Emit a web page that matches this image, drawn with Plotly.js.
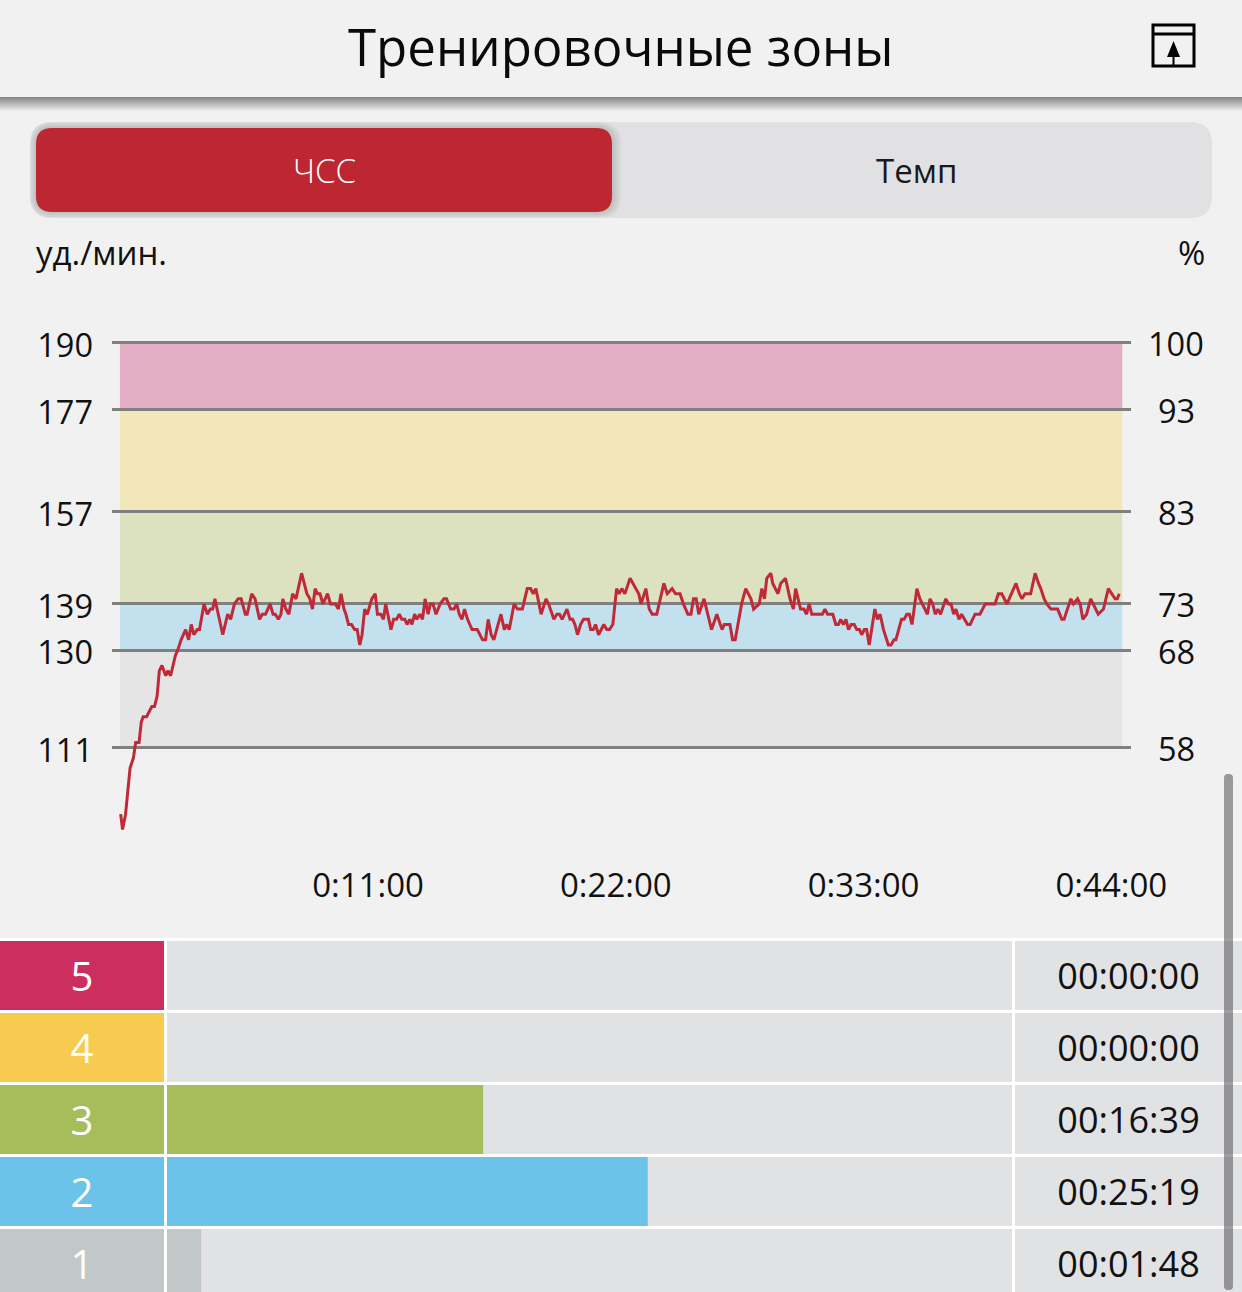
<!DOCTYPE html>
<html>
<head>
<meta charset="utf-8">
<script src="https://cdn.plot.ly/plotly-3.0.1.min.js"></script>
<style>html,body{margin:0;padding:0;background:#f1f1f1;overflow:hidden}</style>
</head>
<body>
<div id="chart" style="width:1242px;height:1292px"></div>
<script>
// ---------- data ----------
const elapsedSeconds = [1,6,14,26,35,41,50,56,61,70,84,91,98,104,111,121,127,134,147,153,162,174,182,189,196,205,211,223,232,240,246,252,261,273,286,294,304,314,322,333,338,350,359,371,378,387,399,407,413,421,428,433,441,449,459,468,483,497,505,512,519,525,532,540,552,560,573,581,588,596,601,608,616,624,631,638,644,651,658,670,679,685,694,701,707,715,721,728,736,743,750,758,764,771,777,784,790,798,805,812,820,826,833,841,852,862,869,880,889,896,903,910,917,925,937,951,965,973,980,988,995,1014,1023,1029,1036,1049,1058,1071,1084,1093,1100,1107,1121,1134,1141,1155,1163,1170,1177,1190,1198,1205,1211,1218,1226,1234,1247,1253,1260,1266,1274,1288,1296,1303,1312,1322,1329,1336,1344,1358,1381,1387,1400,1409,1417,1429,1448,1457,1470,1479,1491,1500,1512,1520,1527,1534,1541,1555,1567,1575,1589,1603,1609,1624,1631,1638,1655,1666,1680,1687,1702,1709,1716,1722,1733,1738,1752,1759,1772,1784,1793,1799,1812,1821,1828,1835,1842,1870,1877,1884,1898,1906,1913,1919,1926,1933,1940,1947,1955,1962,1969,1975,1982,1988,1995,2010,2017,2024,2033,2046,2053,2061,2066,2081,2088,2095,2102,2109,2122,2130,2150,2157,2164,2171,2178,2185,2199,2206,2213,2220,2226,2234,2241,2257,2264,2277,2290,2304,2330,2339,2348,2362,2386,2395,2402,2410,2425,2437,2446,2452,2461,2468,2479,2497,2508,2514,2532,2539,2550,2557,2564,2574,2585,2605,2619,2632,2650,2656,2661];
const heartRate = [98,95,98,107,109,112,112,116,117,117,119,119,121,126,127,125,126,125,129,130,132,134,132,135,133,134,134,139,137,138,138,140,137,133,137,136,139,140,140,137,137,141,140,136,137,137,139,137,137,136,137,140,138,137,141,140,145,141,140,138,142,141,141,139,141,139,139,138,141,138,137,135,135,134,134,131,133,138,137,140,141,137,137,136,139,136,134,136,136,137,136,136,135,136,135,137,136,137,136,140,137,139,139,137,139,140,140,138,138,139,137,136,138,136,134,134,132,132,136,133,132,137,134,135,134,139,138,138,142,142,141,142,137,140,139,136,137,137,136,138,136,136,135,133,135,136,136,134,134,135,133,135,134,134,135,142,141,142,141,144,141,139,142,138,137,137,143,141,142,141,141,139,137,137,140,140,137,140,136,134,137,134,135,135,132,132,139,142,140,138,139,142,140,144,145,143,141,143,144,140,138,142,138,138,137,139,137,137,138,137,137,135,135,136,135,136,134,135,135,134,134,133,134,134,131,138,136,137,134,131,131,132,132,136,136,137,137,135,142,140,137,140,139,137,138,137,140,139,139,137,138,136,137,135,135,137,137,139,139,141,141,139,143,141,140,141,141,145,143,142,140,139,138,138,136,136,140,139,140,139,136,137,140,137,138,142,140,140,141];
const zoneBpm = [190,177,157,139,130,111];
const zonePercent = ["100","93","83","73","68","58"];
const zoneFills = ["#e4afc4","#f2e7b9","#dce2bf","#c3e0ee","#e4e5e4"];
const timeTickVals = [660,1320,1980,2640];
const timeTickText = ["0:11:00","0:22:00","0:33:00","0:44:00"];
const zoneNames = ["5","4","3","2","1"];
const zoneSeconds = [0,0,999,1519,108];
const zoneTimes = ["00:00:00","00:00:00","00:16:39","00:25:19","00:01:48"];
const zoneColors = ["#cc2f5f","#f7cb4f","#a5bd5a","#6bc3e9","#c2c7c7"];

// ---------- page geometry ----------
const W = 1242, H = 1292;
const FONT = '"Open Sans", "Noto Sans", sans-serif';
const px = x => x / W, py = y => 1 - y / H;
function rr(x0, y0, x1, y1, r) {
  const a = px(x0), b = px(x1), c = py(y0), d = py(y1), rx = r / W, ry = r / H;
  return `M ${a+rx} ${c} L ${b-rx} ${c} Q ${b} ${c} ${b} ${c-ry} L ${b} ${d+ry} Q ${b} ${d} ${b-rx} ${d} L ${a+rx} ${d} Q ${a} ${d} ${a} ${d+ry} L ${a} ${c-ry} Q ${a} ${c} ${a+rx} ${c} Z`;
}
const box = (x0, y0, x1, y1, fill, layer) => ({type:'rect', xref:'paper', yref:'paper', x0:px(x0), x1:px(x1), y0:py(y0), y1:py(y1), fillcolor:fill, line:{width:0}, layer:layer||'below'});
const round = (x0, y0, x1, y1, r, fill, layer) => ({type:'path', xref:'paper', yref:'paper', path:rr(x0,y0,x1,y1,r), fillcolor:fill, line:{width:0}, layer:layer||'below'});
const label = (x, y, text, size, color, anchor, weight) => ({xref:'paper', yref:'paper', x:px(x), y:py(y), text, showarrow:false, xanchor:anchor||'center', yanchor:'middle', font:{family:FONT, size, color:color||'#111', weight:weight||400}});

const shapes = [];
// header shadow
for (let i = 0; i < 14; i++) shapes.push(box(0, 97+i, W, 98+i, `rgba(40,40,40,${(0.52*(1-i/14)).toFixed(3)})`));
// toggle
shapes.push(round(30,122,1212,218,22,'#e1e1e3'));
[6,5,4,3,2,1].forEach(e => shapes.push(round(36-e,128-e,612+e*1.6,212+e,16+e,'rgba(0,0,0,0.022)')));
shapes.push(round(36,128,612,212,16,'#bd2732'));
// table backing
shapes.push(box(0,938,W,H,'#ffffff'));
// heart-rate zones
for (let i = 0; i < zoneFills.length; i++) {
  shapes.push({type:'rect', xref:'x', yref:'y', x0:-1, x1:2669, y0:zoneBpm[i+1], y1:zoneBpm[i], fillcolor:zoneFills[i], line:{width:0}, layer:'below'});
}
// header icon
shapes.push({type:'rect', xref:'paper', yref:'paper', x0:px(1153), x1:px(1194), y0:py(25), y1:py(66), line:{color:'#000',width:3}, layer:'above'});
shapes.push({type:'line', xref:'paper', yref:'paper', x0:px(1153), x1:px(1194), y0:py(34), y1:py(34), line:{color:'#000',width:3}, layer:'above'});
shapes.push({type:'line', xref:'paper', yref:'paper', x0:px(1173.5), x1:px(1173.5), y0:py(56), y1:py(66), line:{color:'#000',width:2}, layer:'above'});
shapes.push({type:'path', xref:'paper', yref:'paper', path:`M ${px(1173.5)} ${py(41)} L ${px(1180)} ${py(57)} L ${px(1167)} ${py(57)} Z`, fillcolor:'#000', line:{width:0}, layer:'above'});
// scrollbar
shapes.push(round(1224,774,1233,1290,4,'rgba(95,95,98,0.6)','above'));

const annotations = [
  label(621,46,'Тренировочные зоны',51,'#0a0a0a'),
  label(324,171,'ЧСС',33,'#ffffff','center',300),
  label(916.5,171,'Темп',33,'#1a1a1a'),
  label(34,252,'уд./мин.',33,'#111','left'),
  label(1207,252,'%',33,'#111','right')
];
zonePercent.forEach((t,i) => annotations.push({xref:'paper', yref:'y', x:px(1176), y:zoneBpm[i], text:t, showarrow:false, xanchor:'center', yanchor:'middle', yshift:-1, font:{family:FONT,size:32.5,color:'#111'}}));

// ---------- traces ----------
const rowWidth = 69/72;
const traces = [
  {type:'scatter', mode:'lines', x:elapsedSeconds, y:heartRate, xaxis:'x', yaxis:'y', line:{color:'#c02a38',width:3}, hoverinfo:'skip'},
  {type:'bar', orientation:'h', y:zoneNames, x:zoneNames.map(()=>1), xaxis:'x2', yaxis:'y2', width:rowWidth, marker:{color:zoneColors,line:{width:0}}, text:zoneNames, textposition:'inside', insidetextanchor:'middle', textangle:0, constraintext:'none', textfont:{family:FONT,size:40,color:'#ffffff'}, hoverinfo:'skip'},
  {type:'bar', orientation:'h', y:zoneNames, x:zoneNames.map(()=>2670), xaxis:'x3', yaxis:'y2', width:rowWidth, marker:{color:'#e1e2e4',line:{width:0}}, hoverinfo:'skip'},
  {type:'bar', orientation:'h', y:zoneNames, x:zoneSeconds, xaxis:'x3', yaxis:'y2', width:rowWidth, marker:{color:zoneColors,line:{width:0}}, hoverinfo:'skip'},
  {type:'bar', orientation:'h', y:zoneNames, x:zoneNames.map(()=>1), xaxis:'x4', yaxis:'y2', width:rowWidth, marker:{color:'#e1e2e4',line:{width:0}}, text:zoneTimes, textposition:'inside', insidetextanchor:'middle', textangle:0, constraintext:'none', textfont:{family:FONT,size:36,color:'#111'}, hoverinfo:'skip'}
];

const hidden = {visible:false, fixedrange:true};
const layout = {
  width:W, height:H, showlegend:false, barmode:'overlay',
  paper_bgcolor:'#f1f1f1', plot_bgcolor:'rgba(0,0,0,0)',
  margin:{l:0,r:0,t:0,b:0,pad:0},
  font:{family:FONT,color:'#111'},
  xaxis:{domain:[px(112),px(1130.5)], range:[-22.1,2691], anchor:'y', tickmode:'array', tickvals:timeTickVals, ticktext:timeTickText, showgrid:false, zeroline:false, showline:false, ticks:'', ticklabelstandoff:17, tickfont:{family:FONT,size:33,color:'#111'}, fixedrange:true},
  yaxis:{domain:[py(845.5),py(330.5)], range:[91.89,192.34], anchor:'x', tickmode:'array', tickvals:zoneBpm, ticktext:zoneBpm.map(String), showgrid:true, gridcolor:'#808080', gridwidth:3, zeroline:false, showline:false, ticks:'', ticklabelstandoff:18, ticklabelshift:3, tickfont:{family:FONT,size:32.5,color:'#111'}, fixedrange:true},
  xaxis2:{...hidden, domain:[0,px(164)], range:[0,1], anchor:'y2'},
  xaxis3:{...hidden, domain:[px(167),px(1012)], range:[0,2670], anchor:'y2'},
  xaxis4:{...hidden, domain:[px(1015),1], range:[0,1], anchor:'y2'},
  yaxis2:{...hidden, domain:[0,py(939.5)], type:'category', categoryorder:'array', categoryarray:zoneNames, range:[4.396,-0.5], anchor:'x2'},
  shapes, annotations
};
Plotly.newPlot('chart', traces, layout, {displayModeBar:false, staticPlot:true});
</script>
</body>
</html>
